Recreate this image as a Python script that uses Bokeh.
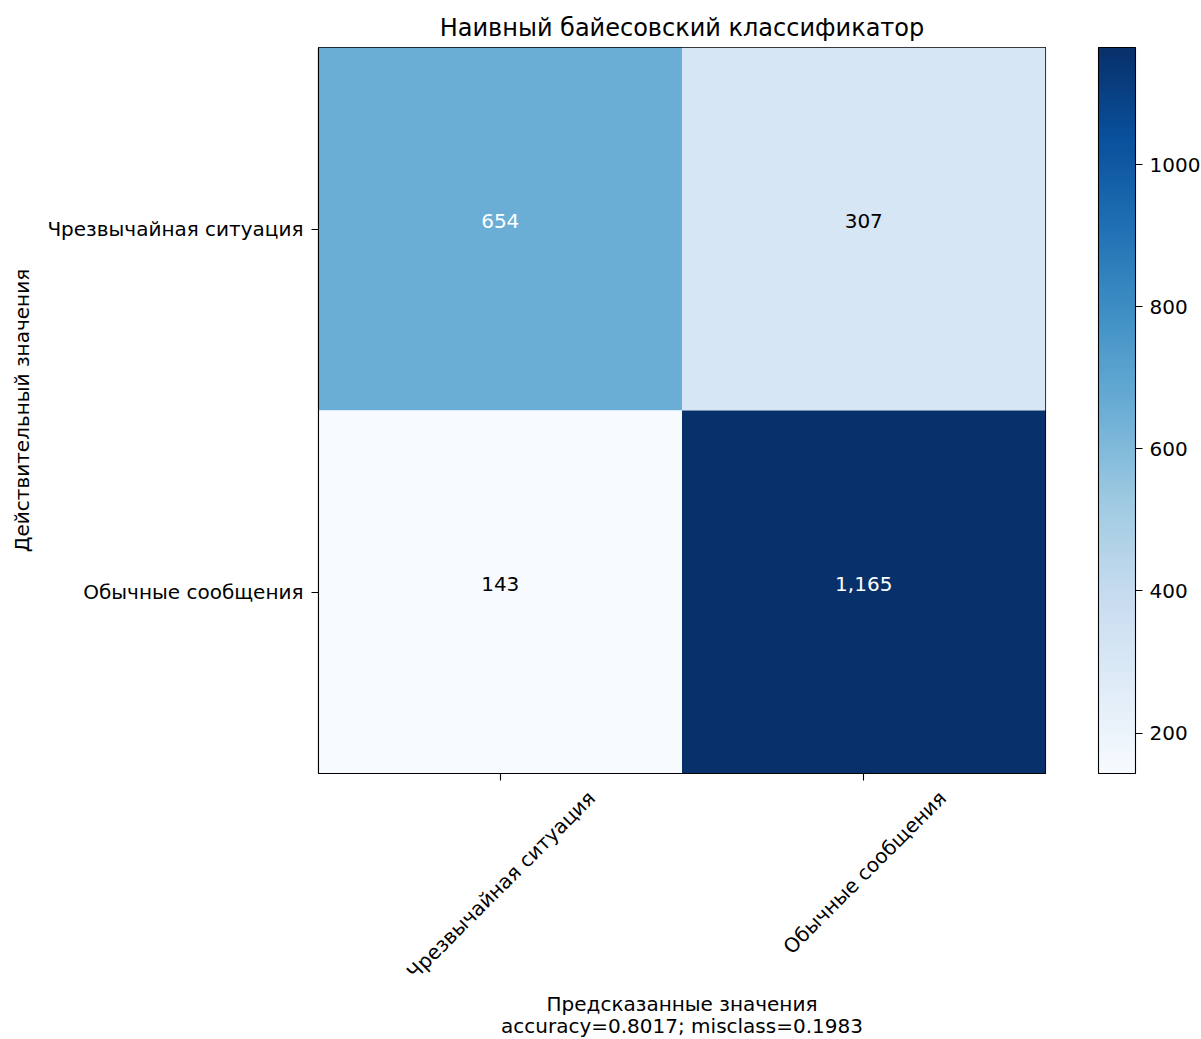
import math

from bokeh.core.properties import value
from bokeh.embed import file_html
from bokeh.models import (ColorBar, ColumnDataSource, FixedTicker, LinearAxis,
                          LinearColorMapper, Range1d)
from bokeh.palettes import Blues256
from bokeh.plotting import figure
from bokeh.resources import INLINE

# Confusion matrix of the naive Bayes classifier
classes = ["Чрезвычайная ситуация", "Обычные сообщения"]
row_emergency = [654, 307]
row_regular = [143, 1165]
accuracy = 0.8017
misclass = 0.1983
colorbar_ticks = [200, 400, 600, 800, 1000]

FONT = "DejaVu Sans"
FS = "20px"
FRAME_W, FRAME_H = 727, 726

matrix = [row_emergency, row_regular]
vmin = min(min(r) for r in matrix)
vmax = max(max(r) for r in matrix)
thresh = vmax / 2

xs, ys, vals, texts, tcolors = [], [], [], [], []
for i, row in enumerate(matrix):
    for j, v in enumerate(row):
        xs.append(j)
        ys.append(i)
        vals.append(v)
        texts.append(f"{v:,}")
        tcolors.append("white" if v > thresh else "black")

src = ColumnDataSource(dict(x=xs, y=ys, v=vals, label=texts, tc=tcolors))
mapper = LinearColorMapper(palette=list(reversed(Blues256)), low=vmin, high=vmax)

p = figure(
    frame_width=FRAME_W, frame_height=FRAME_H,
    x_range=Range1d(-0.5, 1.5), y_range=Range1d(1.5, -0.5),
    title="Наивный байесовский классификатор",
    output_backend="svg", toolbar_location=None, tools="",
    min_border_left=318, min_border_right=156,
    min_border_top=47, min_border_bottom=266,
    background_fill_color="white", border_fill_color="white",
)

p.rect(x="x", y="y", width=1, height=1, source=src,
       fill_color={"field": "v", "transform": mapper}, line_color=None)
p.text(x="x", y="y", text="label", text_color="tc", source=src,
       text_align="center", text_baseline="middle", y_offset=-8,
       text_font=value(FONT), text_font_size=FS)

# title
p.title.text_font = FONT
p.title.text_font_size = "24px"
p.title.text_font_style = "normal"
p.title.align = "center"
p.title.text_color = "black"
p.title.standoff = 11

p.xgrid.visible = False
p.ygrid.visible = False
p.outline_line_color = "black"
p.outline_line_width = 1.1


def style_axis(ax):
    ax.major_tick_in = 0
    ax.major_tick_out = 7
    ax.minor_tick_line_color = None
    ax.major_tick_line_color = "black"
    ax.major_tick_line_width = 1.1
    ax.axis_line_color = "black"
    ax.axis_line_width = 1.1
    ax.major_label_text_font = FONT
    ax.major_label_text_font_size = FS
    ax.major_label_text_color = "black"
    ax.axis_label_text_font = FONT
    ax.axis_label_text_font_size = FS
    ax.axis_label_text_font_style = "normal"
    ax.axis_label_text_color = "black"


for ax in (p.xaxis[0], p.yaxis[0]):
    style_axis(ax)
    ax.ticker = FixedTicker(ticks=[0, 1])

p.yaxis.major_label_overrides = {0: classes[0], 1: classes[1]}
p.yaxis.major_label_standoff = 8
p.yaxis.axis_label = "Действительный значения"
p.yaxis.axis_label_standoff = 10

# tick marks of the predicted classes (labels carried by the axis below it)
p.xaxis.major_label_overrides = {0: "", 1: ""}
p.xaxis.major_label_standoff = 0

# rotated class labels, centred under their ticks: a pixel-scaled axis whose
# label anchors (right end of each rotated label) sit half a label-diagonal to the right
p.extra_x_ranges["px"] = Range1d(0, FRAME_W)
cell_px = FRAME_W / len(classes)
label_widths_px = [258, 222]
anchor_px = [round((j + 0.5) * cell_px + w / 2 * math.cos(math.pi / 4))
             for j, w in enumerate(label_widths_px)]
label_axis = LinearAxis(x_range_name="px", ticker=FixedTicker(ticks=anchor_px))
style_axis(label_axis)
label_axis.axis_line_color = None
label_axis.major_tick_line_color = None
label_axis.major_tick_out = 0
label_axis.major_label_orientation = math.pi / 4
label_axis.major_label_standoff = 14
label_axis.major_label_overrides = {a: c for a, c in zip(anchor_px, classes)}
label_axis.axis_label = f"Предсказанные значения\naccuracy={accuracy:.4f}; misclass={misclass:.4f}"
label_axis.axis_label_text_line_height = 0.95
label_axis.axis_label_standoff = -4
p.add_layout(label_axis, "below")

cb = ColorBar(
    color_mapper=mapper, ticker=FixedTicker(ticks=colorbar_ticks),
    width=37, height=FRAME_H, padding=0, margin=0, location=(53, 0),
    major_tick_in=0, major_tick_out=7,
    major_tick_line_color="black", major_tick_line_width=1.1,
    minor_tick_line_color=None,
    bar_line_color="black", bar_line_width=1.1,
    major_label_text_font=FONT, major_label_text_font_size=FS,
    major_label_text_color="black", label_standoff=7,
    border_line_color=None, background_fill_color=None,
)
p.add_layout(cb, "right")

open("out.html", "w").write(file_html(p, INLINE))
